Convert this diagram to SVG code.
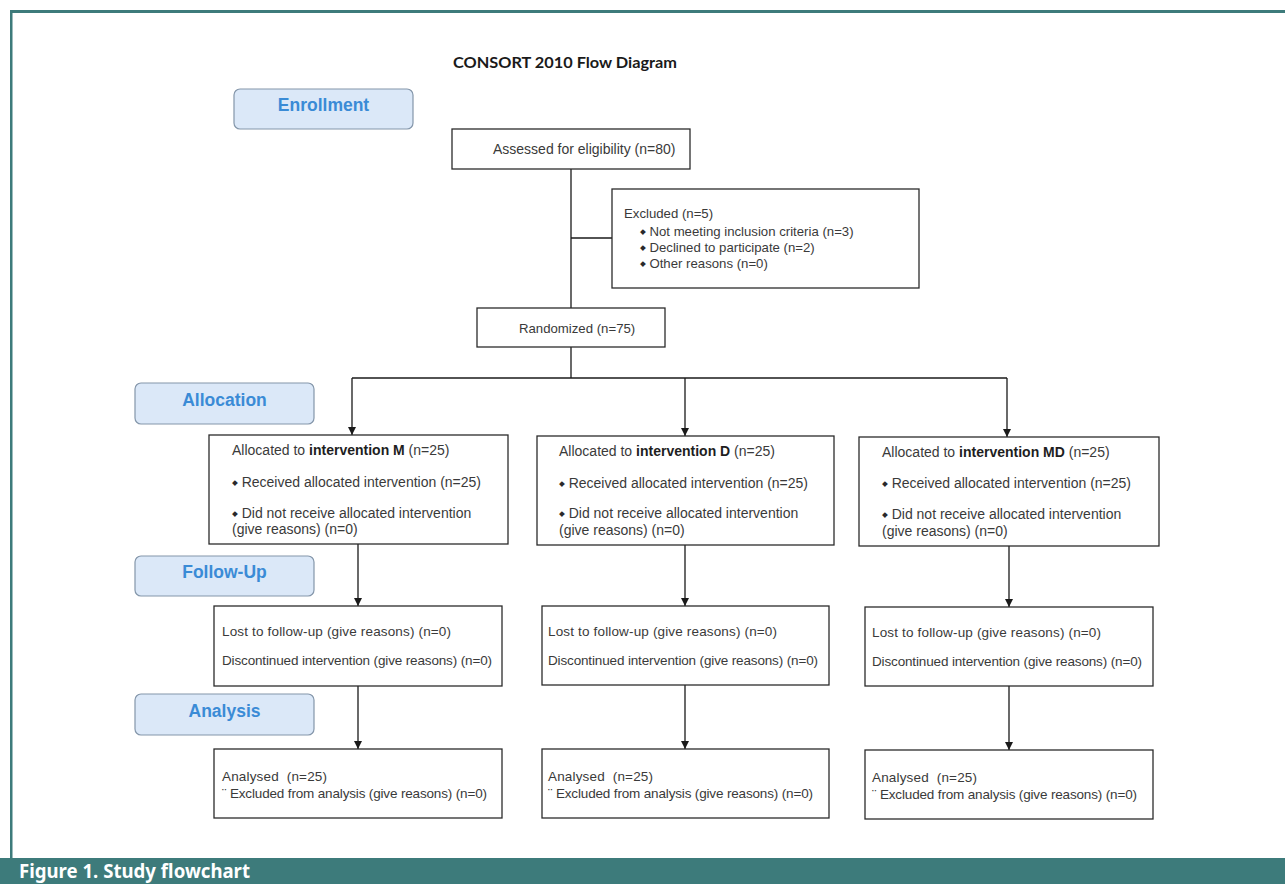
<svg xmlns="http://www.w3.org/2000/svg" width="1285" height="884" viewBox="0 0 1285 884">
<defs>
<style>
.box{fill:#fff;stroke:#2b2b2b;stroke-width:1.3}
.phase{fill:#dbe8f8;stroke:#8496aa;stroke-width:1.2}
.ph{font-family:"Liberation Sans",Arial,sans-serif;font-weight:bold;font-size:17.5px;fill:#3a8bd6;text-anchor:middle}
.t{font-family:"Liberation Sans",Arial,sans-serif;font-size:13.2px;fill:#3a3a3a;white-space:pre}
.t14{font-size:14px}
.t135{font-size:13.5px}
.b{font-weight:bold;fill:#1e1e1e}
.bul{font-family:"DejaVu Sans",sans-serif;font-size:7.5px;fill:#2a2a2a}
.ln{fill:none;stroke:#1a1a1a;stroke-width:1.3}
</style>
<marker id="arr" markerWidth="10" markerHeight="10" refX="8" refY="4" orient="auto" markerUnits="userSpaceOnUse">
<path d="M0,0 L8,4 L0,8 Z" fill="#1a1a1a"/>
</marker>
</defs>
<rect x="0" y="0" width="1285" height="884" fill="#fff"/>
<g id="frame">
<rect x="10" y="10" width="1275" height="3" fill="#3d7b7b"/>
<rect x="10" y="10" width="2.5" height="850" fill="#3d7b7b"/>
<rect x="0" y="858" width="1285" height="26" fill="#3d7b7b"/>
<text x="19" y="878" font-family="'Noto Sans',sans-serif" font-weight="bold" font-size="19" fill="#fff" textLength="231" lengthAdjust="spacingAndGlyphs">Figure 1. Study flowchart</text>
</g>
<text id="title" x="453" y="68" font-family="Lato,'Open Sans',sans-serif" font-weight="bold" font-size="16" fill="#1a1a1a" textLength="224" lengthAdjust="spacingAndGlyphs">CONSORT 2010 Flow Diagram</text>

<g id="phase-enrollment"><rect class="phase" x="234" y="89" width="179" height="40" rx="6"/><text class="ph" x="323.5" y="111">Enrollment</text></g>
<g id="phase-allocation"><rect class="phase" x="135" y="383" width="179" height="41" rx="6"/><text class="ph" x="224.5" y="406">Allocation</text></g>
<g id="phase-followup"><rect class="phase" x="135" y="556" width="179" height="40" rx="6"/><text class="ph" x="224.5" y="578">Follow-Up</text></g>
<g id="phase-analysis"><rect class="phase" x="135" y="694" width="179" height="41" rx="6"/><text class="ph" x="224.5" y="717">Analysis</text></g>

<g id="connectors">
<path class="ln" d="M571,169 V308"/>
<path class="ln" d="M571,238 H612"/>
<path class="ln" d="M571,347 V378"/>
<path class="ln" d="M352,378 H1007"/>
<path class="ln" d="M352,378 V435" marker-end="url(#arr)"/>
<path class="ln" d="M685,378 V436" marker-end="url(#arr)"/>
<path class="ln" d="M1007,378 V437" marker-end="url(#arr)"/>
<path class="ln" d="M358,544 V606" marker-end="url(#arr)"/>
<path class="ln" d="M685,545 V606" marker-end="url(#arr)"/>
<path class="ln" d="M1009,546 V607" marker-end="url(#arr)"/>
<path class="ln" d="M358,686 V749" marker-end="url(#arr)"/>
<path class="ln" d="M685,685 V749" marker-end="url(#arr)"/>
<path class="ln" d="M1009,686 V750" marker-end="url(#arr)"/>
</g>

<g id="assessed"><rect class="box" x="452" y="129" width="238" height="40"/><text class="t t14" x="493" y="154">Assessed for eligibility (n=80)</text></g>
<g id="excluded"><rect class="box" x="612" y="189" width="307" height="99"/>
<text class="t" x="624" y="218">Excluded (n=5)</text>
<text class="t" x="640" y="236"><tspan class="bul" dy="-2">◆</tspan><tspan dy="2"> Not meeting inclusion criteria (n=3)</tspan></text>
<text class="t" x="640" y="252"><tspan class="bul" dy="-2">◆</tspan><tspan dy="2"> Declined to participate (n=2)</tspan></text>
<text class="t" x="640" y="268"><tspan class="bul" dy="-2">◆</tspan><tspan dy="2"> Other reasons (n=0)</tspan></text>
</g>
<g id="randomized"><rect class="box" x="477" y="308" width="188" height="39"/><text class="t" x="519" y="333">Randomized (n=75)</text></g>

<g id="alloc-m"><rect class="box" x="209" y="435" width="299" height="109"/>
<text class="t t14" x="232" y="455">Allocated to <tspan class="b">intervention M</tspan> (n=25)</text>
<text class="t t14" x="232" y="487"><tspan class="bul" dy="-2">◆</tspan><tspan dy="2"> Received allocated intervention (n=25)</tspan></text>
<text class="t t14" x="232" y="518"><tspan class="bul" dy="-2">◆</tspan><tspan dy="2"> Did not receive allocated intervention</tspan></text>
<text class="t t14" x="232" y="534">(give reasons) (n=0)</text>
</g>
<g id="alloc-d"><rect class="box" x="537" y="436" width="297" height="109"/>
<text class="t t14" x="559" y="456">Allocated to <tspan class="b">intervention D</tspan> (n=25)</text>
<text class="t t14" x="559" y="488"><tspan class="bul" dy="-2">◆</tspan><tspan dy="2"> Received allocated intervention (n=25)</tspan></text>
<text class="t t14" x="559" y="518"><tspan class="bul" dy="-2">◆</tspan><tspan dy="2"> Did not receive allocated intervention</tspan></text>
<text class="t t14" x="559" y="535">(give reasons) (n=0)</text>
</g>
<g id="alloc-md"><rect class="box" x="859" y="437" width="300" height="109"/>
<text class="t t14" x="882" y="457">Allocated to <tspan class="b">intervention MD</tspan> (n=25)</text>
<text class="t t14" x="882" y="488"><tspan class="bul" dy="-2">◆</tspan><tspan dy="2"> Received allocated intervention (n=25)</tspan></text>
<text class="t t14" x="882" y="519"><tspan class="bul" dy="-2">◆</tspan><tspan dy="2"> Did not receive allocated intervention</tspan></text>
<text class="t t14" x="882" y="536">(give reasons) (n=0)</text>
</g>

<g id="follow-m"><rect class="box" x="214" y="606" width="288" height="80"/>
<text class="t t135" x="222" y="636" textLength="229">Lost to follow-up (give reasons) (n=0)</text>
<text class="t t135" x="222" y="665" textLength="270">Discontinued intervention (give reasons) (n=0)</text>
</g>
<g id="follow-d"><rect class="box" x="542" y="606" width="287" height="79"/>
<text class="t t135" x="548" y="636" textLength="229">Lost to follow-up (give reasons) (n=0)</text>
<text class="t t135" x="548" y="665" textLength="270">Discontinued intervention (give reasons) (n=0)</text>
</g>
<g id="follow-md"><rect class="box" x="865" y="607" width="288" height="79"/>
<text class="t t135" x="872" y="637" textLength="229">Lost to follow-up (give reasons) (n=0)</text>
<text class="t t135" x="872" y="666" textLength="270">Discontinued intervention (give reasons) (n=0)</text>
</g>

<g id="analysed-m"><rect class="box" x="214" y="749" width="288" height="69"/>
<text class="t t135" x="222" y="781" textLength="105">Analysed  (n=25)</text>
<text class="t t135" x="222" y="798" textLength="265">¨ Excluded from analysis (give reasons) (n=0)</text>
</g>
<g id="analysed-d"><rect class="box" x="542" y="749" width="287" height="69"/>
<text class="t t135" x="548" y="781" textLength="105">Analysed  (n=25)</text>
<text class="t t135" x="548" y="798" textLength="265">¨ Excluded from analysis (give reasons) (n=0)</text>
</g>
<g id="analysed-md"><rect class="box" x="865" y="750" width="288" height="69"/>
<text class="t t135" x="872" y="782" textLength="105">Analysed  (n=25)</text>
<text class="t t135" x="872" y="799" textLength="265">¨ Excluded from analysis (give reasons) (n=0)</text>
</g>
</svg>
